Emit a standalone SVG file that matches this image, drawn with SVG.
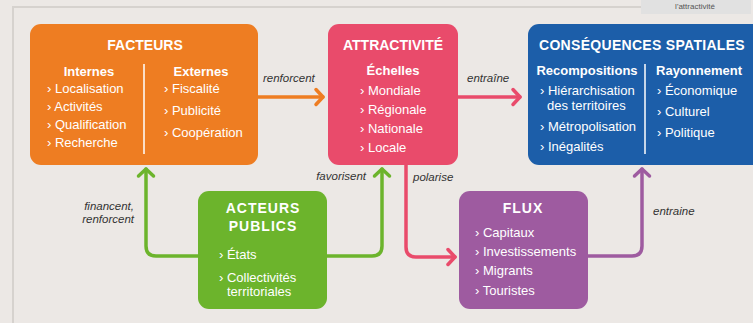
<svg xmlns="http://www.w3.org/2000/svg" width="753" height="323" viewBox="0 0 753 323">
<style>
text{font-family:"Liberation Sans",Arial,sans-serif;fill:#fff}
.t{font-size:14px;font-weight:bold;text-anchor:middle}
.h{font-size:13px;font-weight:bold;text-anchor:middle}
.i{font-size:13px}
.l{font-size:11.5px;font-style:italic;fill:#333}
.c{fill:none;stroke-width:3.5;stroke-linecap:round;stroke-linejoin:round}
.dv{stroke:#fff;stroke-width:1.5}
</style>
<defs>
<marker id="ao" viewBox="-10 -10 20 20" markerWidth="20" markerHeight="20" markerUnits="userSpaceOnUse" orient="auto"><path d="M-7,-7.5 L0,0 L-7,7.5" fill="none" stroke="#ee7d22" stroke-width="3.5" stroke-linecap="round" stroke-linejoin="round"/></marker>
<marker id="ar" viewBox="-10 -10 20 20" markerWidth="20" markerHeight="20" markerUnits="userSpaceOnUse" orient="auto"><path d="M-7,-7.5 L0,0 L-7,7.5" fill="none" stroke="#e94b6b" stroke-width="3.5" stroke-linecap="round" stroke-linejoin="round"/></marker>
<marker id="ag" viewBox="-10 -10 20 20" markerWidth="20" markerHeight="20" markerUnits="userSpaceOnUse" orient="auto"><path d="M-7,-7.5 L0,0 L-7,7.5" fill="none" stroke="#6cb42c" stroke-width="3.5" stroke-linecap="round" stroke-linejoin="round"/></marker>
<marker id="ap" viewBox="-10 -10 20 20" markerWidth="20" markerHeight="20" markerUnits="userSpaceOnUse" orient="auto"><path d="M-7,-7.5 L0,0 L-7,7.5" fill="none" stroke="#9e5ba0" stroke-width="3.5" stroke-linecap="round" stroke-linejoin="round"/></marker>
</defs>
<rect width="753" height="323" fill="#ece8e5"/>
<path d="M13,323 V7 H642" fill="none" stroke="#d6d2ce" stroke-width="2"/>
<rect x="641" y="0" width="110" height="14" fill="#e1e1e1"/>
<text x="695" y="9" style="font-size:8px;fill:#555;text-anchor:middle">l'attractivité</text>

<g id="connectors">
<path class="c" d="M258,97 H323" stroke="#ee7d22" marker-end="url(#ao)"/>
<text class="l" x="263" y="82">renforcent</text>
<path class="c" d="M458,97 H520" stroke="#e94b6b" marker-end="url(#ar)"/>
<text class="l" x="467" y="82">entraîne</text>
<path class="c" d="M198,256 H156 Q146,256 146,246 V169" stroke="#6cb42c" marker-end="url(#ag)"/>
<text class="l" x="134" y="210" text-anchor="end">financent,</text>
<text class="l" x="134" y="223" text-anchor="end">renforcent</text>
<path class="c" d="M327,256 H372 Q382,256 382,246 V169" stroke="#6cb42c" marker-end="url(#ag)"/>
<text class="l" x="366" y="180" text-anchor="end">favorisent</text>
<path class="c" d="M406,165 V247 Q406,257 416,257 H455" stroke="#e94b6b" marker-end="url(#ar)"/>
<text class="l" x="413" y="181">polarise</text>
<path class="c" d="M588,256 H632 Q642,256 642,246 V169" stroke="#9e5ba0" marker-end="url(#ap)"/>
<text class="l" x="653" y="215">entraine</text>
</g>

<g id="facteurs">
<rect x="30" y="24" width="228" height="141" rx="11" fill="#ee7d22"/>
<text class="t" x="145" y="50">FACTEURS</text>
<line class="dv" x1="144" y1="64" x2="144" y2="154"/>
<text class="h" x="89" y="76">Internes</text>
<text class="i" x="47" y="93">› Localisation</text>
<text class="i" x="47" y="111">› Activités</text>
<text class="i" x="47" y="129">› Qualification</text>
<text class="i" x="47" y="147">› Recherche</text>
<text class="h" x="201" y="76">Externes</text>
<text class="i" x="164" y="93">› Fiscalité</text>
<text class="i" x="164" y="115">› Publicité</text>
<text class="i" x="164" y="137">› Coopération</text>
</g>

<g id="attractivite">
<rect x="328" y="24" width="130" height="141" rx="11" fill="#e94b6b"/>
<text class="t" x="393" y="50">ATTRACTIVITÉ</text>
<text class="h" x="393" y="75">Échelles</text>
<text class="i" x="360" y="95">› Mondiale</text>
<text class="i" x="360" y="114">› Régionale</text>
<text class="i" x="360" y="133">› Nationale</text>
<text class="i" x="360" y="152">› Locale</text>
</g>

<g id="consequences">
<rect x="528" y="24" width="236" height="141" rx="11" fill="#1c5ea9"/>
<text class="t" x="642" y="50" style="letter-spacing:0.3px">CONSÉQUENCES SPATIALES</text>
<line class="dv" x1="645" y1="64" x2="645" y2="154"/>
<text class="h" x="587" y="75">Recompositions</text>
<text class="i" x="540" y="95">› Hiérarchisation</text>
<text class="i" x="547" y="110">des territoires</text>
<text class="i" x="540" y="131">› Métropolisation</text>
<text class="i" x="540" y="151">› Inégalités</text>
<text class="h" x="699" y="75">Rayonnement</text>
<text class="i" x="657" y="95">› Économique</text>
<text class="i" x="657" y="116">› Culturel</text>
<text class="i" x="657" y="137">› Politique</text>
</g>

<g id="acteurs">
<rect x="198" y="191" width="129" height="118" rx="11" fill="#6cb42c"/>
<text class="t" x="263" y="213" style="letter-spacing:1px">ACTEURS</text>
<text class="t" x="263" y="231" style="letter-spacing:1px">PUBLICS</text>
<text class="i" x="219" y="259">› États</text>
<text class="i" x="219" y="282">› Collectivités</text>
<text class="i" x="227" y="296">territoriales</text>
</g>

<g id="flux">
<rect x="459" y="191" width="129" height="118" rx="11" fill="#9e5ba0"/>
<text class="t" x="523" y="213" style="letter-spacing:1px">FLUX</text>
<text class="i" x="475" y="237">› Capitaux</text>
<text class="i" x="475" y="256">› Investissements</text>
<text class="i" x="475" y="275">› Migrants</text>
<text class="i" x="475" y="295">› Touristes</text>
</g>
</svg>
